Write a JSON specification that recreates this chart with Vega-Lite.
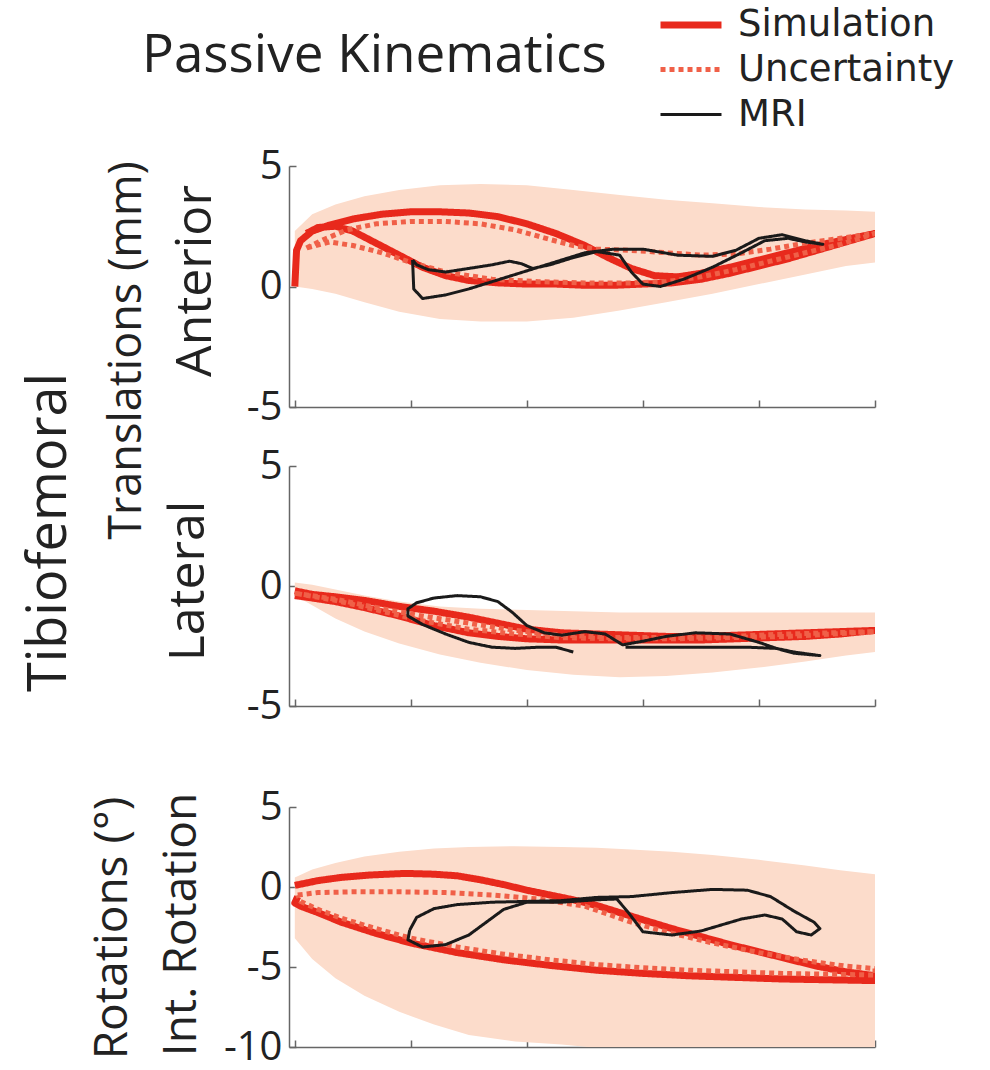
{
"$schema": "https://vega.github.io/schema/vega-lite/v6.json",
"background": "white",
"padding": {"left": 22, "top": 6, "right": 5, "bottom": 3},
"config": {
  "view": {"stroke": null},
  "font": "Open Sans",
  "axis": {"domainColor": "#666", "domainWidth": 1.5, "tickColor": "#666", "tickWidth": 1.5, "labelFont": "Open Sans", "labelFontSize": 40, "labelColor": "#222", "titleFont": "Open Sans", "titleColor": "#222", "titleFontWeight": "normal", "grid": false},
  "legend": {"labelFont": "DejaVu Sans", "labelFontSize": 37, "labelColor": "#222", "labelLimit": 400, "symbolType": "M-2,0H2", "symbolSize": 930, "labelOffset": 28, "rowPadding": 7}
},
"data": {"values": [
{"p":1,"s":"band","x":0,"lo":0,"hi":2.3},{"p":1,"s":"band","x":3,"lo":-0.1,"hi":3.0},{"p":1,"s":"band","x":7,"lo":-0.3,"hi":3.4},{"p":1,"s":"band","x":12,"lo":-0.65,"hi":3.75},{"p":1,"s":"band","x":18,"lo":-1.05,"hi":4.0},{"p":1,"s":"band","x":25,"lo":-1.35,"hi":4.2},{"p":1,"s":"band","x":32,"lo":-1.45,"hi":4.25},{"p":1,"s":"band","x":40,"lo":-1.45,"hi":4.2},{"p":1,"s":"band","x":48,"lo":-1.3,"hi":4.0},{"p":1,"s":"band","x":56,"lo":-1.0,"hi":3.8},{"p":1,"s":"band","x":64,"lo":-0.65,"hi":3.6},{"p":1,"s":"band","x":72,"lo":-0.3,"hi":3.45},{"p":1,"s":"band","x":80,"lo":0.1,"hi":3.3},{"p":1,"s":"band","x":88,"lo":0.5,"hi":3.2},{"p":1,"s":"band","x":95,"lo":0.85,"hi":3.15},{"p":1,"s":"band","x":100,"lo":1.0,"hi":3.1},
{"p":1,"s":"Simulation","i":0,"x":0,"y":0},{"p":1,"s":"Simulation","i":1,"x":0.3,"y":1.5},{"p":1,"s":"Simulation","i":2,"x":1,"y":1.9},{"p":1,"s":"Simulation","i":3,"x":3,"y":2.3},{"p":1,"s":"Simulation","i":4,"x":6,"y":2.55},{"p":1,"s":"Simulation","i":5,"x":10,"y":2.8},{"p":1,"s":"Simulation","i":6,"x":15,"y":3.0},{"p":1,"s":"Simulation","i":7,"x":20,"y":3.1},{"p":1,"s":"Simulation","i":8,"x":25,"y":3.1},{"p":1,"s":"Simulation","i":9,"x":30,"y":3.05},{"p":1,"s":"Simulation","i":10,"x":35,"y":2.9},{"p":1,"s":"Simulation","i":11,"x":40,"y":2.6},{"p":1,"s":"Simulation","i":12,"x":45,"y":2.2},{"p":1,"s":"Simulation","i":13,"x":50,"y":1.7},{"p":1,"s":"Simulation","i":14,"x":54,"y":1.2},{"p":1,"s":"Simulation","i":15,"x":58,"y":0.75},{"p":1,"s":"Simulation","i":16,"x":62,"y":0.45},{"p":1,"s":"Simulation","i":17,"x":66,"y":0.4},{"p":1,"s":"Simulation","i":18,"x":70,"y":0.55},{"p":1,"s":"Simulation","i":19,"x":75,"y":0.8},{"p":1,"s":"Simulation","i":20,"x":80,"y":1.1},{"p":1,"s":"Simulation","i":21,"x":85,"y":1.4},{"p":1,"s":"Simulation","i":22,"x":90,"y":1.7},{"p":1,"s":"Simulation","i":23,"x":95,"y":1.95},{"p":1,"s":"Simulation","i":24,"x":100,"y":2.2},{"p":1,"s":"Simulation","i":25,"x":95,"y":1.85},{"p":1,"s":"Simulation","i":26,"x":90,"y":1.5},{"p":1,"s":"Simulation","i":27,"x":85,"y":1.15},{"p":1,"s":"Simulation","i":28,"x":80,"y":0.85},{"p":1,"s":"Simulation","i":29,"x":75,"y":0.55},{"p":1,"s":"Simulation","i":30,"x":70,"y":0.3},{"p":1,"s":"Simulation","i":31,"x":65,"y":0.15},{"p":1,"s":"Simulation","i":32,"x":60,"y":0.1},{"p":1,"s":"Simulation","i":33,"x":55,"y":0.05},{"p":1,"s":"Simulation","i":34,"x":50,"y":0.05},{"p":1,"s":"Simulation","i":35,"x":45,"y":0.1},{"p":1,"s":"Simulation","i":36,"x":40,"y":0.1},{"p":1,"s":"Simulation","i":37,"x":35,"y":0.15},{"p":1,"s":"Simulation","i":38,"x":30,"y":0.25},{"p":1,"s":"Simulation","i":39,"x":26,"y":0.45},{"p":1,"s":"Simulation","i":40,"x":22,"y":0.8},{"p":1,"s":"Simulation","i":41,"x":18,"y":1.3},{"p":1,"s":"Simulation","i":42,"x":14,"y":1.8},{"p":1,"s":"Simulation","i":43,"x":10,"y":2.3},{"p":1,"s":"Simulation","i":44,"x":7,"y":2.5},{"p":1,"s":"Simulation","i":45,"x":4,"y":2.45},{"p":1,"s":"Simulation","i":46,"x":2,"y":2.2},
{"p":1,"s":"Uncertainty","i":0,"x":2,"y":1.6},{"p":1,"s":"Uncertainty","i":1,"x":5,"y":1.95},{"p":1,"s":"Uncertainty","i":2,"x":9,"y":2.35},{"p":1,"s":"Uncertainty","i":3,"x":14,"y":2.6},{"p":1,"s":"Uncertainty","i":4,"x":20,"y":2.7},{"p":1,"s":"Uncertainty","i":5,"x":26,"y":2.7},{"p":1,"s":"Uncertainty","i":6,"x":32,"y":2.6},{"p":1,"s":"Uncertainty","i":7,"x":38,"y":2.35},{"p":1,"s":"Uncertainty","i":8,"x":44,"y":1.95},{"p":1,"s":"Uncertainty","i":9,"x":48,"y":1.7},{"p":1,"s":"Uncertainty","i":10,"x":52,"y":1.55},{"p":1,"s":"Uncertainty","i":11,"x":58,"y":1.5},{"p":1,"s":"Uncertainty","i":12,"x":64,"y":1.4},{"p":1,"s":"Uncertainty","i":13,"x":70,"y":1.3},{"p":1,"s":"Uncertainty","i":14,"x":76,"y":1.35},{"p":1,"s":"Uncertainty","i":15,"x":82,"y":1.55},{"p":1,"s":"Uncertainty","i":16,"x":88,"y":1.8},{"p":1,"s":"Uncertainty","i":17,"x":94,"y":2.0},{"p":1,"s":"Uncertainty","i":18,"x":100,"y":2.2},{"p":1,"s":"Uncertainty","i":19,"x":94,"y":1.75},{"p":1,"s":"Uncertainty","i":20,"x":88,"y":1.4},{"p":1,"s":"Uncertainty","i":21,"x":82,"y":1.05},{"p":1,"s":"Uncertainty","i":22,"x":76,"y":0.7},{"p":1,"s":"Uncertainty","i":23,"x":70,"y":0.4},{"p":1,"s":"Uncertainty","i":24,"x":64,"y":0.2},{"p":1,"s":"Uncertainty","i":25,"x":58,"y":0.15},{"p":1,"s":"Uncertainty","i":26,"x":50,"y":0.15},{"p":1,"s":"Uncertainty","i":27,"x":42,"y":0.2},{"p":1,"s":"Uncertainty","i":28,"x":34,"y":0.3},{"p":1,"s":"Uncertainty","i":29,"x":26,"y":0.6},{"p":1,"s":"Uncertainty","i":30,"x":20,"y":1.0},{"p":1,"s":"Uncertainty","i":31,"x":15,"y":1.4},{"p":1,"s":"Uncertainty","i":32,"x":10,"y":1.7},{"p":1,"s":"Uncertainty","i":33,"x":6,"y":1.85},{"p":1,"s":"Uncertainty","i":34,"x":2,"y":1.6},
{"p":1,"s":"MRI","i":0,"x":20.3,"y":1.1},{"p":1,"s":"MRI","i":1,"x":21,"y":0.9},{"p":1,"s":"MRI","i":2,"x":23,"y":0.7},{"p":1,"s":"MRI","i":3,"x":26,"y":0.6},{"p":1,"s":"MRI","i":4,"x":30,"y":0.75},{"p":1,"s":"MRI","i":5,"x":34,"y":0.9},{"p":1,"s":"MRI","i":6,"x":37,"y":1.05},{"p":1,"s":"MRI","i":7,"x":39,"y":0.95},{"p":1,"s":"MRI","i":8,"x":41,"y":0.75},{"p":1,"s":"MRI","i":9,"x":44,"y":0.9},{"p":1,"s":"MRI","i":10,"x":48,"y":1.2},{"p":1,"s":"MRI","i":11,"x":52,"y":1.45},{"p":1,"s":"MRI","i":12,"x":56,"y":1.3},{"p":1,"s":"MRI","i":13,"x":58,"y":0.6},{"p":1,"s":"MRI","i":14,"x":60,"y":0.1},{"p":1,"s":"MRI","i":15,"x":63,"y":0.0},{"p":1,"s":"MRI","i":16,"x":67,"y":0.3},{"p":1,"s":"MRI","i":17,"x":72,"y":0.8},{"p":1,"s":"MRI","i":18,"x":77,"y":1.4},{"p":1,"s":"MRI","i":19,"x":81,"y":1.9},{"p":1,"s":"MRI","i":20,"x":85,"y":2.0},{"p":1,"s":"MRI","i":21,"x":88,"y":1.85},{"p":1,"s":"MRI","i":22,"x":91,"y":1.75},{"p":1,"s":"MRI","i":23,"x":88,"y":1.9},{"p":1,"s":"MRI","i":24,"x":84,"y":2.15},{"p":1,"s":"MRI","i":25,"x":80,"y":2.0},{"p":1,"s":"MRI","i":26,"x":76,"y":1.5},{"p":1,"s":"MRI","i":27,"x":72,"y":1.25},{"p":1,"s":"MRI","i":28,"x":66,"y":1.3},{"p":1,"s":"MRI","i":29,"x":60,"y":1.55},{"p":1,"s":"MRI","i":30,"x":55,"y":1.55},{"p":1,"s":"MRI","i":31,"x":50,"y":1.4},{"p":1,"s":"MRI","i":32,"x":46,"y":1.1},{"p":1,"s":"MRI","i":33,"x":42,"y":0.8},{"p":1,"s":"MRI","i":34,"x":38,"y":0.5},{"p":1,"s":"MRI","i":35,"x":34,"y":0.2},{"p":1,"s":"MRI","i":36,"x":30,"y":-0.1},{"p":1,"s":"MRI","i":37,"x":26,"y":-0.35},{"p":1,"s":"MRI","i":38,"x":22,"y":-0.5},{"p":1,"s":"MRI","i":39,"x":20.5,"y":-0.1},{"p":1,"s":"MRI","i":40,"x":20.3,"y":1.1},
{"p":2,"s":"band","x":0,"lo":-0.4,"hi":0.15},{"p":2,"s":"band","x":3,"lo":-0.8,"hi":0.05},{"p":2,"s":"band","x":7,"lo":-1.35,"hi":-0.15},{"p":2,"s":"band","x":12,"lo":-1.9,"hi":-0.4},{"p":2,"s":"band","x":18,"lo":-2.4,"hi":-0.65},{"p":2,"s":"band","x":25,"lo":-2.85,"hi":-0.85},{"p":2,"s":"band","x":32,"lo":-3.2,"hi":-0.95},{"p":2,"s":"band","x":40,"lo":-3.5,"hi":-1.0},{"p":2,"s":"band","x":48,"lo":-3.7,"hi":-1.05},{"p":2,"s":"band","x":56,"lo":-3.8,"hi":-1.1},{"p":2,"s":"band","x":64,"lo":-3.75,"hi":-1.1},{"p":2,"s":"band","x":72,"lo":-3.6,"hi":-1.1},{"p":2,"s":"band","x":80,"lo":-3.4,"hi":-1.1},{"p":2,"s":"band","x":88,"lo":-3.15,"hi":-1.1},{"p":2,"s":"band","x":95,"lo":-2.9,"hi":-1.1},{"p":2,"s":"band","x":100,"lo":-2.75,"hi":-1.1},
{"p":2,"s":"Simulation","i":0,"x":0,"y":-0.2},{"p":2,"s":"Simulation","i":1,"x":3,"y":-0.35},{"p":2,"s":"Simulation","i":2,"x":7,"y":-0.45},{"p":2,"s":"Simulation","i":3,"x":12,"y":-0.6},{"p":2,"s":"Simulation","i":4,"x":18,"y":-0.85},{"p":2,"s":"Simulation","i":5,"x":24,"y":-1.05},{"p":2,"s":"Simulation","i":6,"x":30,"y":-1.3},{"p":2,"s":"Simulation","i":7,"x":35,"y":-1.55},{"p":2,"s":"Simulation","i":8,"x":40,"y":-1.8},{"p":2,"s":"Simulation","i":9,"x":46,"y":-1.95},{"p":2,"s":"Simulation","i":10,"x":52,"y":-2.0},{"p":2,"s":"Simulation","i":11,"x":58,"y":-2.05},{"p":2,"s":"Simulation","i":12,"x":64,"y":-2.1},{"p":2,"s":"Simulation","i":13,"x":70,"y":-2.1},{"p":2,"s":"Simulation","i":14,"x":76,"y":-2.05},{"p":2,"s":"Simulation","i":15,"x":82,"y":-2.0},{"p":2,"s":"Simulation","i":16,"x":88,"y":-1.95},{"p":2,"s":"Simulation","i":17,"x":94,"y":-1.9},{"p":2,"s":"Simulation","i":18,"x":100,"y":-1.85},{"p":2,"s":"Simulation","i":19,"x":94,"y":-2.0},{"p":2,"s":"Simulation","i":20,"x":88,"y":-2.1},{"p":2,"s":"Simulation","i":21,"x":82,"y":-2.15},{"p":2,"s":"Simulation","i":22,"x":76,"y":-2.2},{"p":2,"s":"Simulation","i":23,"x":70,"y":-2.25},{"p":2,"s":"Simulation","i":24,"x":64,"y":-2.25},{"p":2,"s":"Simulation","i":25,"x":58,"y":-2.25},{"p":2,"s":"Simulation","i":26,"x":52,"y":-2.25},{"p":2,"s":"Simulation","i":27,"x":46,"y":-2.25},{"p":2,"s":"Simulation","i":28,"x":40,"y":-2.2},{"p":2,"s":"Simulation","i":29,"x":35,"y":-2.1},{"p":2,"s":"Simulation","i":30,"x":30,"y":-1.95},{"p":2,"s":"Simulation","i":31,"x":24,"y":-1.65},{"p":2,"s":"Simulation","i":32,"x":18,"y":-1.25},{"p":2,"s":"Simulation","i":33,"x":12,"y":-0.9},{"p":2,"s":"Simulation","i":34,"x":7,"y":-0.65},{"p":2,"s":"Simulation","i":35,"x":3,"y":-0.5},{"p":2,"s":"Simulation","i":36,"x":0,"y":-0.4},
{"p":2,"s":"Uncertainty","i":0,"x":0,"y":-0.3},{"p":2,"s":"Uncertainty","i":1,"x":7,"y":-0.55},{"p":2,"s":"Uncertainty","i":2,"x":15,"y":-0.95},{"p":2,"s":"Uncertainty","i":3,"x":22,"y":-1.25},{"p":2,"s":"Uncertainty","i":4,"x":30,"y":-1.55},{"p":2,"s":"Uncertainty","i":5,"x":38,"y":-1.85},{"p":2,"s":"Uncertainty","i":6,"x":46,"y":-2.05},{"p":2,"s":"Uncertainty","i":7,"x":55,"y":-2.15},{"p":2,"s":"Uncertainty","i":8,"x":65,"y":-2.15},{"p":2,"s":"Uncertainty","i":9,"x":75,"y":-2.1},{"p":2,"s":"Uncertainty","i":10,"x":85,"y":-2.0},{"p":2,"s":"Uncertainty","i":11,"x":100,"y":-1.9},{"p":2,"s":"Uncertainty","i":12,"x":85,"y":-2.1},{"p":2,"s":"Uncertainty","i":13,"x":75,"y":-2.15},{"p":2,"s":"Uncertainty","i":14,"x":65,"y":-2.2},{"p":2,"s":"Uncertainty","i":15,"x":55,"y":-2.2},{"p":2,"s":"Uncertainty","i":16,"x":46,"y":-2.15},{"p":2,"s":"Uncertainty","i":17,"x":38,"y":-2.0},{"p":2,"s":"Uncertainty","i":18,"x":30,"y":-1.8},{"p":2,"s":"Uncertainty","i":19,"x":22,"y":-1.45},{"p":2,"s":"Uncertainty","i":20,"x":15,"y":-1.05},{"p":2,"s":"Uncertainty","i":21,"x":7,"y":-0.6},{"p":2,"s":"Uncertainty","i":22,"x":0,"y":-0.3},
{"p":2,"s":"MRI","i":0,"x":48,"y":-2.75},{"p":2,"s":"MRI","i":1,"x":45,"y":-2.55},{"p":2,"s":"MRI","i":2,"x":42,"y":-2.55},{"p":2,"s":"MRI","i":3,"x":38,"y":-2.6},{"p":2,"s":"MRI","i":4,"x":34,"y":-2.55},{"p":2,"s":"MRI","i":5,"x":30,"y":-2.35},{"p":2,"s":"MRI","i":6,"x":26,"y":-2.0},{"p":2,"s":"MRI","i":7,"x":22,"y":-1.6},{"p":2,"s":"MRI","i":8,"x":19.5,"y":-1.25},{"p":2,"s":"MRI","i":9,"x":19.5,"y":-0.95},{"p":2,"s":"MRI","i":10,"x":21,"y":-0.7},{"p":2,"s":"MRI","i":11,"x":24,"y":-0.5},{"p":2,"s":"MRI","i":12,"x":28,"y":-0.4},{"p":2,"s":"MRI","i":13,"x":32,"y":-0.45},{"p":2,"s":"MRI","i":14,"x":35,"y":-0.65},{"p":2,"s":"MRI","i":15,"x":37.5,"y":-1.1},{"p":2,"s":"MRI","i":16,"x":40,"y":-1.65},{"p":2,"s":"MRI","i":17,"x":43,"y":-1.95},{"p":2,"s":"MRI","i":18,"x":46,"y":-2.05},{"p":2,"s":"MRI","i":19,"x":50,"y":-1.9},{"p":2,"s":"MRI","i":20,"x":53.5,"y":-2.0},{"p":2,"s":"MRI","i":21,"x":56.5,"y":-2.45},{"p":2,"s":"MRI","i":22,"x":60,"y":-2.3},{"p":2,"s":"MRI","i":23,"x":64,"y":-2.1},{"p":2,"s":"MRI","i":24,"x":69,"y":-1.95},{"p":2,"s":"MRI","i":25,"x":75,"y":-2.0},{"p":2,"s":"MRI","i":26,"x":80,"y":-2.35},{"p":2,"s":"MRI","i":27,"x":83,"y":-2.6},{"p":2,"s":"MRI","i":28,"x":86,"y":-2.8},{"p":2,"s":"MRI","i":29,"x":90.5,"y":-2.9},{"p":2,"s":"MRI","i":30,"x":86,"y":-2.75},{"p":2,"s":"MRI","i":31,"x":83,"y":-2.6},{"p":2,"s":"MRI","i":32,"x":78,"y":-2.55},{"p":2,"s":"MRI","i":33,"x":70,"y":-2.55},{"p":2,"s":"MRI","i":34,"x":62,"y":-2.55},{"p":2,"s":"MRI","i":35,"x":57,"y":-2.55},
{"p":3,"s":"band","x":0,"lo":-3.2,"hi":0.6},{"p":3,"s":"band","x":3,"lo":-4.5,"hi":1.1},{"p":3,"s":"band","x":7,"lo":-5.7,"hi":1.5},{"p":3,"s":"band","x":12,"lo":-6.8,"hi":1.9},{"p":3,"s":"band","x":18,"lo":-7.8,"hi":2.2},{"p":3,"s":"band","x":24,"lo":-8.6,"hi":2.4},{"p":3,"s":"band","x":30,"lo":-9.25,"hi":2.5},{"p":3,"s":"band","x":38,"lo":-9.65,"hi":2.55},{"p":3,"s":"band","x":46,"lo":-9.85,"hi":2.5},{"p":3,"s":"band","x":52,"lo":-10.05,"hi":2.45},{"p":3,"s":"band","x":58,"lo":-10.4,"hi":2.35},{"p":3,"s":"band","x":65,"lo":-11,"hi":2.2},{"p":3,"s":"band","x":72,"lo":-11.4,"hi":2.0},{"p":3,"s":"band","x":80,"lo":-11.7,"hi":1.7},{"p":3,"s":"band","x":88,"lo":-12,"hi":1.35},{"p":3,"s":"band","x":94,"lo":-12,"hi":1.05},{"p":3,"s":"band","x":100,"lo":-12,"hi":0.8},
{"p":3,"s":"Simulation","i":0,"x":0,"y":0.1},{"p":3,"s":"Simulation","i":1,"x":4,"y":0.4},{"p":3,"s":"Simulation","i":2,"x":8,"y":0.6},{"p":3,"s":"Simulation","i":3,"x":13,"y":0.75},{"p":3,"s":"Simulation","i":4,"x":19,"y":0.85},{"p":3,"s":"Simulation","i":5,"x":24,"y":0.8},{"p":3,"s":"Simulation","i":6,"x":28,"y":0.7},{"p":3,"s":"Simulation","i":7,"x":32,"y":0.45},{"p":3,"s":"Simulation","i":8,"x":36,"y":0.15},{"p":3,"s":"Simulation","i":9,"x":40,"y":-0.2},{"p":3,"s":"Simulation","i":10,"x":44,"y":-0.5},{"p":3,"s":"Simulation","i":11,"x":48,"y":-0.8},{"p":3,"s":"Simulation","i":12,"x":52,"y":-1.15},{"p":3,"s":"Simulation","i":13,"x":56,"y":-1.6},{"p":3,"s":"Simulation","i":14,"x":60,"y":-2.05},{"p":3,"s":"Simulation","i":15,"x":65,"y":-2.6},{"p":3,"s":"Simulation","i":16,"x":70,"y":-3.1},{"p":3,"s":"Simulation","i":17,"x":75,"y":-3.6},{"p":3,"s":"Simulation","i":18,"x":80,"y":-4.05},{"p":3,"s":"Simulation","i":19,"x":85,"y":-4.5},{"p":3,"s":"Simulation","i":20,"x":90,"y":-4.95},{"p":3,"s":"Simulation","i":21,"x":95,"y":-5.3},{"p":3,"s":"Simulation","i":22,"x":100,"y":-5.55},{"p":3,"s":"Simulation","i":23,"x":100,"y":-5.85},{"p":3,"s":"Simulation","i":24,"x":92,"y":-5.8},{"p":3,"s":"Simulation","i":25,"x":84,"y":-5.75},{"p":3,"s":"Simulation","i":26,"x":76,"y":-5.65},{"p":3,"s":"Simulation","i":27,"x":68,"y":-5.55},{"p":3,"s":"Simulation","i":28,"x":60,"y":-5.4},{"p":3,"s":"Simulation","i":29,"x":52,"y":-5.2},{"p":3,"s":"Simulation","i":30,"x":44,"y":-4.9},{"p":3,"s":"Simulation","i":31,"x":36,"y":-4.55},{"p":3,"s":"Simulation","i":32,"x":28,"y":-4.1},{"p":3,"s":"Simulation","i":33,"x":20,"y":-3.5},{"p":3,"s":"Simulation","i":34,"x":14,"y":-2.9},{"p":3,"s":"Simulation","i":35,"x":8,"y":-2.2},{"p":3,"s":"Simulation","i":36,"x":4,"y":-1.6},{"p":3,"s":"Simulation","i":37,"x":1,"y":-1.2},{"p":3,"s":"Simulation","i":38,"x":0,"y":-1.0},{"p":3,"s":"Simulation","i":39,"x":0.5,"y":-0.6},
{"p":3,"s":"Uncertainty","i":0,"x":0.5,"y":-0.5},{"p":3,"s":"Uncertainty","i":1,"x":4,"y":-0.35},{"p":3,"s":"Uncertainty","i":2,"x":10,"y":-0.3},{"p":3,"s":"Uncertainty","i":3,"x":18,"y":-0.3},{"p":3,"s":"Uncertainty","i":4,"x":26,"y":-0.35},{"p":3,"s":"Uncertainty","i":5,"x":34,"y":-0.5},{"p":3,"s":"Uncertainty","i":6,"x":42,"y":-0.75},{"p":3,"s":"Uncertainty","i":7,"x":50,"y":-1.2},{"p":3,"s":"Uncertainty","i":8,"x":54,"y":-1.7},{"p":3,"s":"Uncertainty","i":9,"x":58,"y":-2.2},{"p":3,"s":"Uncertainty","i":10,"x":64,"y":-2.8},{"p":3,"s":"Uncertainty","i":11,"x":72,"y":-3.5},{"p":3,"s":"Uncertainty","i":12,"x":80,"y":-4.1},{"p":3,"s":"Uncertainty","i":13,"x":88,"y":-4.6},{"p":3,"s":"Uncertainty","i":14,"x":95,"y":-4.95},{"p":3,"s":"Uncertainty","i":15,"x":100,"y":-5.1},{"p":3,"s":"Uncertainty","i":16,"x":100,"y":-5.5},{"p":3,"s":"Uncertainty","i":17,"x":92,"y":-5.45},{"p":3,"s":"Uncertainty","i":18,"x":84,"y":-5.4},{"p":3,"s":"Uncertainty","i":19,"x":76,"y":-5.3},{"p":3,"s":"Uncertainty","i":20,"x":68,"y":-5.2},{"p":3,"s":"Uncertainty","i":21,"x":60,"y":-5.05},{"p":3,"s":"Uncertainty","i":22,"x":52,"y":-4.85},{"p":3,"s":"Uncertainty","i":23,"x":44,"y":-4.55},{"p":3,"s":"Uncertainty","i":24,"x":36,"y":-4.2},{"p":3,"s":"Uncertainty","i":25,"x":28,"y":-3.75},{"p":3,"s":"Uncertainty","i":26,"x":20,"y":-3.2},{"p":3,"s":"Uncertainty","i":27,"x":14,"y":-2.6},{"p":3,"s":"Uncertainty","i":28,"x":8,"y":-1.95},{"p":3,"s":"Uncertainty","i":29,"x":4,"y":-1.4},{"p":3,"s":"Uncertainty","i":30,"x":1,"y":-0.9},{"p":3,"s":"Uncertainty","i":31,"x":0.5,"y":-0.5},
{"p":3,"s":"MRI","i":0,"x":19.8,"y":-2.7},{"p":3,"s":"MRI","i":1,"x":21,"y":-1.9},{"p":3,"s":"MRI","i":2,"x":24,"y":-1.35},{"p":3,"s":"MRI","i":3,"x":28,"y":-1.1},{"p":3,"s":"MRI","i":4,"x":34,"y":-0.95},{"p":3,"s":"MRI","i":5,"x":40,"y":-0.9},{"p":3,"s":"MRI","i":6,"x":46,"y":-0.85},{"p":3,"s":"MRI","i":7,"x":52,"y":-0.65},{"p":3,"s":"MRI","i":8,"x":58,"y":-0.6},{"p":3,"s":"MRI","i":9,"x":65,"y":-0.35},{"p":3,"s":"MRI","i":10,"x":72,"y":-0.15},{"p":3,"s":"MRI","i":11,"x":78,"y":-0.2},{"p":3,"s":"MRI","i":12,"x":82,"y":-0.6},{"p":3,"s":"MRI","i":13,"x":86,"y":-1.5},{"p":3,"s":"MRI","i":14,"x":89.5,"y":-2.2},{"p":3,"s":"MRI","i":15,"x":90.5,"y":-2.6},{"p":3,"s":"MRI","i":16,"x":89,"y":-3.0},{"p":3,"s":"MRI","i":17,"x":86.5,"y":-2.8},{"p":3,"s":"MRI","i":18,"x":84,"y":-2.0},{"p":3,"s":"MRI","i":19,"x":81,"y":-1.75},{"p":3,"s":"MRI","i":20,"x":77,"y":-2.0},{"p":3,"s":"MRI","i":21,"x":70,"y":-2.75},{"p":3,"s":"MRI","i":22,"x":65,"y":-3.0},{"p":3,"s":"MRI","i":23,"x":60,"y":-2.8},{"p":3,"s":"MRI","i":24,"x":57.5,"y":-1.6},{"p":3,"s":"MRI","i":25,"x":55.5,"y":-0.75},{"p":3,"s":"MRI","i":26,"x":52,"y":-0.8},{"p":3,"s":"MRI","i":27,"x":46,"y":-0.95},{"p":3,"s":"MRI","i":28,"x":40,"y":-0.95},{"p":3,"s":"MRI","i":29,"x":36,"y":-1.4},{"p":3,"s":"MRI","i":30,"x":33,"y":-2.2},{"p":3,"s":"MRI","i":31,"x":30,"y":-3.0},{"p":3,"s":"MRI","i":32,"x":26,"y":-3.6},{"p":3,"s":"MRI","i":33,"x":22,"y":-3.75},{"p":3,"s":"MRI","i":34,"x":19.5,"y":-3.3},{"p":3,"s":"MRI","i":35,"x":19.8,"y":-2.7}
]},
"bounds": "flush",
"spacing": 59,
"vconcat": [
  {"width": 586, "height": 241,
   "title": {"text": "Passive Kinematics", "anchor": "start", "frame": "group", "dx": -147, "baseline": "alphabetic", "offset": 21, "fontSize": 53, "font": "Open Sans", "fontWeight": "normal", "color": "#222"},
   "resolve": {"axis": {"y": "independent"}},
   "layer": [
    {"transform": [{"filter": "datum.p == 1 && datum.s == 'band'"}],
     "mark": {"type": "area", "color": "#fcdccb", "clip": true},
     "encoding": {
      "x": {"field": "x", "type": "quantitative", "scale": {"domain": [-1, 100], "nice": false}, "title": null, "axis": {"values": [0,20,40,60,80,100], "labels": false, "tickSize": -7, "grid": false}},
      "y": {"field": "lo", "type": "quantitative", "scale": {"domain": [-5, 5], "nice": false}, "axis": {"orient": "left", "values": [-5,0,5], "tickSize": -7, "labelPadding": 14, "labelExpr": "replace(datum.label, '\u2212', '-')", "title": "Anterior", "titleFontSize": 50, "titleAngle": -90, "titleX": -79, "titleY": 114.5, "titleAlign": "center", "titleBaseline": "alphabetic"}},
      "y2": {"field": "hi"}}},
    {"transform": [{"filter": "datum.p == 1 && (datum.s == 'Simulation' || datum.s == 'Uncertainty')"}],
     "mark": {"type": "line", "strokeJoin": "round", "strokeCap": "butt", "clip": true},
     "encoding": {
      "x": {"field": "x", "type": "quantitative", "scale": {"domain": [-1, 100], "nice": false}, "title": null, "axis": {"values": [0,20,40,60,80,100], "labels": false, "tickSize": -7, "grid": false}},
      "y": {"field": "y", "type": "quantitative", "scale": {"domain": [-5, 5], "nice": false}, "axis": {"orient": "left", "labels": false, "ticks": false, "domain": false, "title": "Translations (mm)", "titleFontSize": 45, "titleAngle": -90, "titleX": -149, "titleY": 184, "titleAlign": "center", "titleBaseline": "alphabetic"}},
      "order": {"field": "i", "type": "quantitative"},
      "color": {"field": "s", "type": "nominal", "scale": {"domain": ["Simulation","Uncertainty","MRI"], "range": ["#e8291c","#f06048","#1a1a1a"]}, "legend": {"title": null, "orient": "none", "legendX": 383, "legendY": -160}},
      "strokeDash": {"field": "s", "type": "nominal", "scale": {"domain": ["Simulation","Uncertainty","MRI"], "range": [[1,0],[5,4],[1,0]]}, "legend": {"title": null, "orient": "none", "legendX": 383, "legendY": -160}},
      "strokeWidth": {"field": "s", "type": "nominal", "scale": {"domain": ["Simulation","Uncertainty","MRI"], "range": [7,3,2.5]}, "legend": {"title": null, "orient": "none", "legendX": 383, "legendY": -160}}}},
    {"transform": [{"filter": "datum.p == 1 && datum.s == 'MRI'"}],
     "mark": {"type": "line", "strokeJoin": "round", "clip": true},
     "encoding": {
      "x": {"field": "x", "type": "quantitative", "scale": {"domain": [-1, 100], "nice": false}, "title": null, "axis": {"values": [0,20,40,60,80,100], "labels": false, "tickSize": -7, "grid": false}},
      "y": {"field": "y", "type": "quantitative", "scale": {"domain": [-5, 5], "nice": false}, "axis": {"orient": "left", "labels": false, "ticks": false, "domain": false, "title": "Tibiofemoral", "titleFontSize": 54, "titleAngle": -90, "titleX": -224, "titleY": 366, "titleAlign": "center", "titleBaseline": "alphabetic"}},
      "order": {"field": "i", "type": "quantitative"},
      "color": {"field": "s", "type": "nominal", "scale": {"domain": ["Simulation","Uncertainty","MRI"], "range": ["#e8291c","#f06048","#1a1a1a"]}, "legend": {"title": null, "orient": "none", "legendX": 383, "legendY": -160}},
      "strokeDash": {"field": "s", "type": "nominal", "scale": {"domain": ["Simulation","Uncertainty","MRI"], "range": [[1,0],[5,4],[1,0]]}, "legend": {"title": null, "orient": "none", "legendX": 383, "legendY": -160}},
      "strokeWidth": {"field": "s", "type": "nominal", "scale": {"domain": ["Simulation","Uncertainty","MRI"], "range": [7,3,2.5]}, "legend": {"title": null, "orient": "none", "legendX": 383, "legendY": -160}}}}
   ]},
  {"width": 586, "height": 240,
   "resolve": {"axis": {"y": "independent"}},
   "layer": [
    {"transform": [{"filter": "datum.p == 2 && datum.s == 'band'"}],
     "mark": {"type": "area", "color": "#fcdccb", "clip": true},
     "encoding": {
      "x": {"field": "x", "type": "quantitative", "scale": {"domain": [-1, 100], "nice": false}, "title": null, "axis": {"values": [0,20,40,60,80,100], "labels": false, "tickSize": -7, "grid": false}},
      "y": {"field": "lo", "type": "quantitative", "scale": {"domain": [-5, 5], "nice": false}, "axis": {"orient": "left", "values": [-5,0,5], "tickSize": -7, "labelPadding": 14, "labelExpr": "replace(datum.label, '\u2212', '-')", "title": "Lateral", "titleFontSize": 50, "titleAngle": -90, "titleX": -86, "titleY": 114.5, "titleAlign": "center", "titleBaseline": "alphabetic"}},
      "y2": {"field": "hi"}}},
    {"transform": [{"filter": "datum.p == 2 && datum.s != 'band'"}],
     "mark": {"type": "line", "strokeJoin": "round", "strokeCap": "butt", "clip": true},
     "encoding": {
      "x": {"field": "x", "type": "quantitative", "scale": {"domain": [-1, 100], "nice": false}, "title": null, "axis": {"values": [0,20,40,60,80,100], "labels": false, "tickSize": -7, "grid": false}},
      "y": {"field": "y", "type": "quantitative", "scale": {"domain": [-5, 5], "nice": false}, "axis": null},
      "order": {"field": "i", "type": "quantitative"},
      "color": {"field": "s", "type": "nominal", "scale": {"domain": ["Simulation","Uncertainty","MRI"], "range": ["#e8291c","#f06048","#1a1a1a"]}, "legend": {"title": null, "orient": "none", "legendX": 383, "legendY": -160}},
      "strokeDash": {"field": "s", "type": "nominal", "scale": {"domain": ["Simulation","Uncertainty","MRI"], "range": [[1,0],[5,4],[1,0]]}, "legend": {"title": null, "orient": "none", "legendX": 383, "legendY": -160}},
      "strokeWidth": {"field": "s", "type": "nominal", "scale": {"domain": ["Simulation","Uncertainty","MRI"], "range": [7,3,2.5]}, "legend": {"title": null, "orient": "none", "legendX": 383, "legendY": -160}}}}
   ]},
 {"width": 586, "height": 282,
  "resolve": {"axis": {"y": "independent"}},
  "layer": [
   {"transform": [{"filter": "datum.p == 3 && datum.s == 'band'"}],
    "mark": {"type": "area", "color": "#fcdccb", "clip": true},
    "encoding": {
     "x": {"field": "x", "type": "quantitative", "scale": {"domain": [-1, 100], "nice": false}, "title": null, "axis": {"values": [0,20,40,60,80,100], "labels": false, "tickSize": -7, "grid": false}},
     "y": {"field": "lo", "type": "quantitative", "scale": {"domain": [-10, 5], "nice": false, "range": [282, 42]}, "axis": {"orient": "left", "values": [-10,-5,0,5], "tickSize": -7, "labelPadding": 14, "labelExpr": "replace(datum.label, '\u2212', '-')", "title": "Int. Rotation", "titleFontSize": 46, "titleAngle": -90, "titleX": -94, "titleY": 159, "titleAlign": "center", "titleBaseline": "alphabetic"}},
     "y2": {"field": "hi"}}},
   {"transform": [{"filter": "datum.p == 3 && datum.s != 'band'"}],
    "mark": {"type": "line", "strokeJoin": "round", "strokeCap": "butt", "clip": true},
    "encoding": {
     "x": {"field": "x", "type": "quantitative", "scale": {"domain": [-1, 100], "nice": false}, "title": null, "axis": {"values": [0,20,40,60,80,100], "labels": false, "tickSize": -7, "grid": false}},
     "y": {"field": "y", "type": "quantitative", "scale": {"domain": [-10, 5], "nice": false, "range": [282, 42]}, "axis": {"orient": "left", "labels": false, "ticks": false, "domain": false, "title": "Rotations (°)", "titleFontSize": 46, "titleAngle": -90, "titleX": -163, "titleY": 162.5, "titleAlign": "center", "titleBaseline": "alphabetic"}},
     "order": {"field": "i", "type": "quantitative"},
     "color": {"field": "s", "type": "nominal", "scale": {"domain": ["Simulation","Uncertainty","MRI"], "range": ["#e8291c","#f06048","#1a1a1a"]}, "legend": {"title": null, "orient": "none", "legendX": 383, "legendY": -160}},
     "strokeDash": {"field": "s", "type": "nominal", "scale": {"domain": ["Simulation","Uncertainty","MRI"], "range": [[1,0],[5,4],[1,0]]}, "legend": {"title": null, "orient": "none", "legendX": 383, "legendY": -160}},
     "strokeWidth": {"field": "s", "type": "nominal", "scale": {"domain": ["Simulation","Uncertainty","MRI"], "range": [7,3,2.5]}, "legend": {"title": null, "orient": "none", "legendX": 383, "legendY": -160}}}}
  ]}
]
}
